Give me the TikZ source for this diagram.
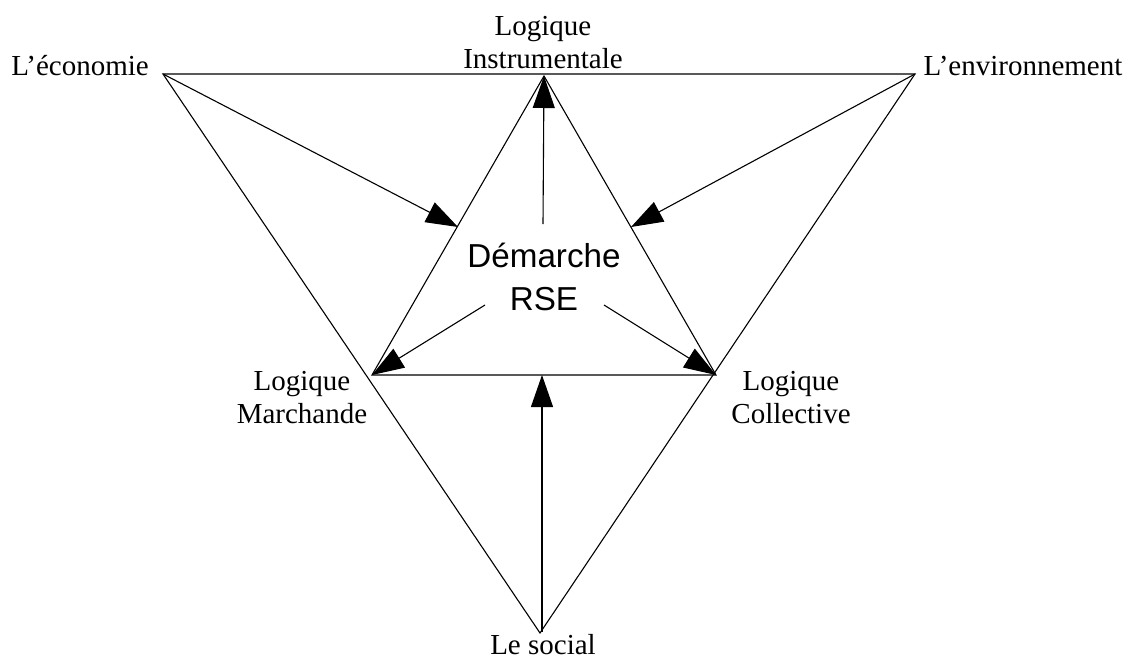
\documentclass[tikz,border=0pt]{standalone}
\usepackage{fontspec}
\setmainfont{Liberation Serif}
\newfontfamily\rsefont{Liberation Sans}
\usetikzlibrary{arrows.meta}
\begin{document}
\begin{tikzpicture}[x=0.5pt,y=-0.5pt,
  edge/.style={line width=0.55pt,black},
  arr/.style={line width=0.55pt,black,-{Triangle[length=16pt,width=11pt]}},
  lbl/.style={inner sep=0pt,anchor=base,align=center,font=\fontsize{14.5pt}{16.5pt}\selectfont},
  center/.style={inner sep=0pt,anchor=base,align=center,font=\rsefont\fontsize{16.6pt}{21.5pt}\selectfont},
  ]
\useasboundingbox (0,0) rectangle (1131,659);
% outer triangle vertices
\coordinate (E) at (163,74);
\coordinate (V) at (915,74);
\coordinate (S) at (540,633);
% inner triangle vertices
\coordinate (I) at (544,76);
\coordinate (M) at (372,375);
\coordinate (C) at (716,375);
% arrow anchors
\coordinate (eIM) at (458,227);
\coordinate (eIC) at (631,227);
\coordinate (rI) at (543,224);
\coordinate (rM) at (485,305);
\coordinate (rC) at (604,305);
\coordinate (sB) at (542,632);
\coordinate (sT) at (542,375);

% labels (base = baseline of last line)
\node[lbl] (econ) at (80,75) {L’économie};
\node[lbl] (env) at (1023,75) {L’environnement};
\node[lbl] (instr) at (543,68) {Logique\\Instrumentale};
\node[lbl] (march) at (302,423) {Logique\\Marchande};
\node[lbl] (coll) at (791,423) {Logique\\Collective};
\node[lbl] (social) at (543,654) {Le social};
\node[center] (rse) at (544,310) {Démarche\\RSE};

% triangles
\draw[edge] (E) -- (V) -- (S) -- cycle;
\draw[edge] (I) -- (M) -- (C) -- cycle;

% arrows
\draw[arr] (E) -- (eIM);
\draw[arr] (V) -- (eIC);
\draw[arr] (rI) -- (I);
\draw[arr] (rM) -- (M);
\draw[arr] (rC) -- (C);
\draw[arr] (sB) -- (sT);
\end{tikzpicture}
\end{document}
